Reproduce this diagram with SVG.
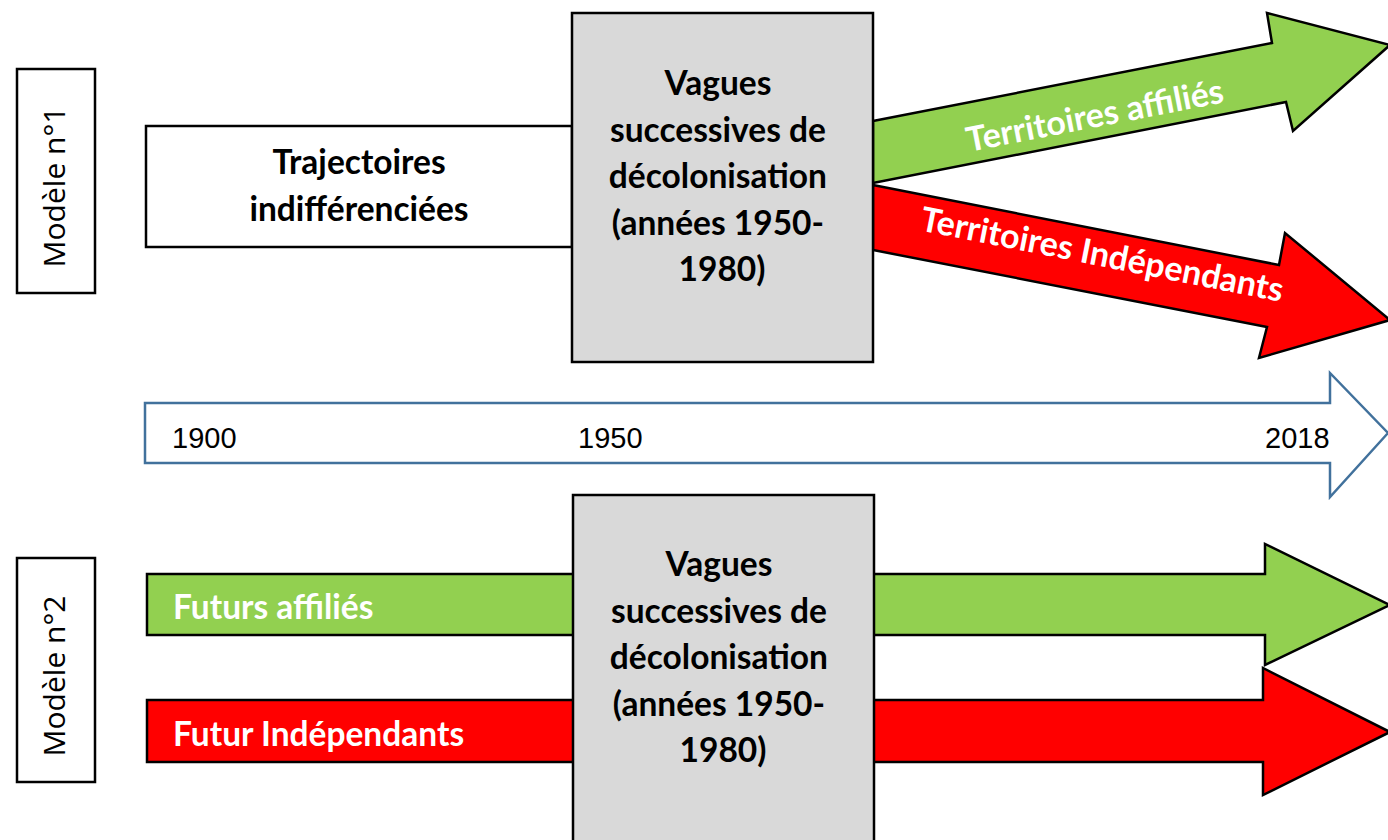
<svg xmlns="http://www.w3.org/2000/svg" width="1388" height="840" viewBox="0 0 1388 840">
<style>
.bx{stroke:#000;stroke-width:2.5}
.bold{font-family:Lato,"Liberation Sans",sans-serif;font-weight:bold;font-size:33.5px}
.rot{font-size:34px}
.w{fill:#fff}
.k{fill:#000}
.reg{font-family:"Open Sans","Liberation Sans",sans-serif;font-size:30px;fill:#000}
.yr{font-family:"Liberation Sans",sans-serif;font-size:29px;fill:#000}
</style>
<rect width="1388" height="840" fill="#fff"/>
<g id="connectors">
  <polygon id="arrow-affilies-1" class="bx" fill="#92D050" points="873,121 1272,43 1267,13 1390,45 1293,131 1286,102 873,183"/>
  <polygon id="arrow-indep-1" class="bx" fill="#FF0000" points="873,185 1279,265 1285,233 1390,320 1259,358 1267,327 873,250"/>
  <polygon id="timeline" fill="#fff" stroke="#41719C" stroke-width="2.5" points="145,403 1330,403 1330,373 1388,433 1330,497 1330,463 145,463"/>
  <polygon id="arrow-affilies-2" class="bx" fill="#92D050" points="147,574 1265,574 1265,544 1390,605 1265,665 1265,635 147,635"/>
  <polygon id="arrow-indep-2" class="bx" fill="#FF0000" points="147,700 1263,700 1263,668 1390,732 1263,795 1263,762 147,762"/>
</g>
<g id="label-affilies-1"><text class="bold rot w" text-anchor="middle" transform="translate(1097,127) rotate(-11)">Territoires affiliés</text></g>
<g id="label-indep-1"><text class="bold rot w" text-anchor="middle" transform="translate(1100,266) rotate(11.2)">Territoires Indépendants</text></g>
<g id="timeline-labels">
  <text class="yr" x="172" y="448">1900</text>
  <text class="yr" x="578" y="448">1950</text>
  <text class="yr" x="1265" y="448">2018</text>
</g>
<g id="modele1">
  <rect class="bx" fill="#fff" x="17" y="69" width="78" height="224"/>
  <text class="reg" text-anchor="middle" transform="translate(65,187) rotate(-90)">Modèle n°1</text>
</g>
<g id="modele2">
  <rect class="bx" fill="#fff" x="17" y="558" width="78" height="224"/>
  <text class="reg" text-anchor="middle" transform="translate(65,676) rotate(-90)">Modèle n°2</text>
</g>
<g id="trajectoires">
  <rect class="bx" fill="#fff" x="146" y="126" width="426" height="121"/>
  <text class="bold k" text-anchor="middle" x="359" y="174">Trajectoires</text>
  <text class="bold k" text-anchor="middle" x="359" y="221">indifférenciées</text>
</g>
<g id="vagues1">
  <rect class="bx" fill="#D9D9D9" x="572" y="13" width="301" height="349"/>
  <text class="bold k" text-anchor="middle">
    <tspan x="722" y="95">Vagues</tspan>
    <tspan x="722" y="141.5">successives de</tspan>
    <tspan x="722" y="188">décolonisation</tspan>
    <tspan x="722" y="234.5">(années 1950-</tspan>
    <tspan x="722" y="281">1980)</tspan>
  </text>
</g>
<g id="futurs-affilies"><text class="bold w" x="173" y="619">Futurs affiliés</text></g>
<g id="futur-indep"><text class="bold w" x="173" y="746">Futur Indépendants</text></g>
<g id="vagues2">
  <rect class="bx" fill="#D9D9D9" x="573" y="495" width="301" height="350"/>
  <text class="bold k" text-anchor="middle">
    <tspan x="723" y="576">Vagues</tspan>
    <tspan x="723" y="622.5">successives de</tspan>
    <tspan x="723" y="669">décolonisation</tspan>
    <tspan x="723" y="715.5">(années 1950-</tspan>
    <tspan x="723" y="762">1980)</tspan>
  </text>
</g>
</svg>
